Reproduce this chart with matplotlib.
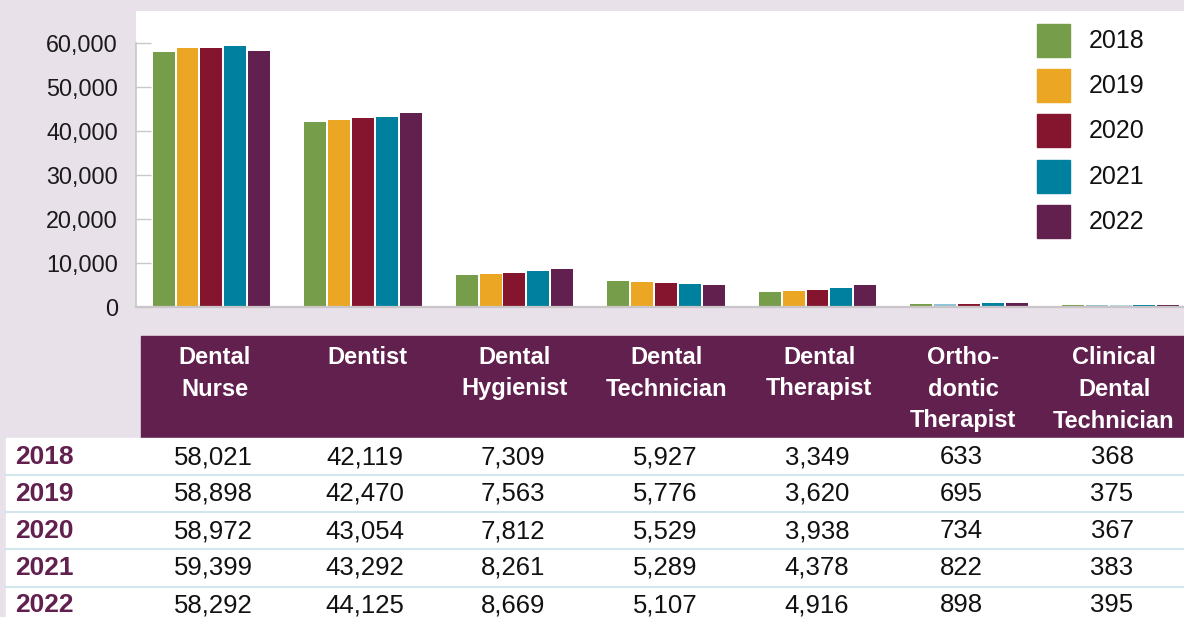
import matplotlib
matplotlib.use("Agg")
import matplotlib.pyplot as plt
from matplotlib.patches import Rectangle
from matplotlib.ticker import FuncFormatter
import numpy as np

plt.rcParams['font.family'] = ['Liberation Sans', 'DejaVu Sans']

# ---------------- data ----------------
categories = ['Dental Nurse', 'Dentist', 'Dental Hygienist', 'Dental Technician',
              'Dental Therapist', 'Orthodontic Therapist', 'Clinical Dental Technician']
header_lines = [['Dental', 'Nurse'], ['Dentist'], ['Dental', 'Hygienist'],
                ['Dental', 'Technician'], ['Dental', 'Therapist'],
                ['Ortho-', 'dontic', 'Therapist'], ['Clinical', 'Dental', 'Technician']]
years = ['2018', '2019', '2020', '2021', '2022']
v2018 = [58021, 42119, 7309, 5927, 3349, 633, 368]
v2019 = [58898, 42470, 7563, 5776, 3620, 695, 375]
v2020 = [58972, 43054, 7812, 5529, 3938, 734, 367]
v2021 = [59399, 43292, 8261, 5289, 4378, 822, 383]
v2022 = [58292, 44125, 8669, 5107, 4916, 898, 395]
series = [v2018, v2019, v2020, v2021, v2022]
colors = ['#769d4a', '#eba623', '#85152e', '#00809f', '#62204f']
# odd light-blue bars seen in the reference (category index, year index) -> colour
color_override = {(5, 1): '#8fc3d6', (6, 1): '#8fc3d6', (6, 2): '#b3d8e4'}
yticks = [0, 10000, 20000, 30000, 40000, 50000, 60000]

# ---------------- figure ----------------
W, H = 1184, 617
BG = '#e8e1ea'
PURPLE = '#62204f'
fig = plt.figure(figsize=(W / 100, H / 100), dpi=100, facecolor=BG)

def fy(ypx):
    return 1 - ypx / H

def fx(xpx):
    return xpx / W

ax = fig.add_axes([fx(136), fy(307), fx(1184) - fx(136), fy(11) - fy(307)])
ax.set_facecolor('white')

x = np.arange(len(categories))
step, width = 0.158, 0.145
for j, (yr, vals) in enumerate(zip(years, series)):
    cols = [color_override.get((i, j), colors[j]) for i in range(len(categories))]
    ax.bar(x + (j - 2) * step, vals, width=width, color=cols, label=yr, zorder=2)

ax.set_xlim(-0.498, 6.419)
ax.set_ylim(0, 67270)
ax.set_xticks([])
ax.set_yticks(yticks)
ax.yaxis.set_major_formatter(FuncFormatter(lambda v, p: f'{int(v):,}'))
ax.tick_params(axis='y', direction='in', length=11, width=1, color='#c8c8c8',
               labelsize=16.8, pad=13, labelcolor='#1a1a1a')
for s in ['top', 'right']:
    ax.spines[s].set_visible(False)
ax.spines['left'].set_bounds(0, 60000)
ax.spines['left'].set_color('#c8c8c8')
ax.spines['left'].set_linewidth(1.2)
ax.spines['bottom'].set_color('#c9c5c9')
ax.spines['bottom'].set_linewidth(1.6)

# ---------------- legend (manual) ----------------
leg_tops = [24, 69, 114, 160, 205]
for yr, c, t in zip(years, colors, leg_tops):
    fig.patches.append(Rectangle((fx(1037), fy(t + 33)), fx(33), 33 / H,
                                 transform=fig.transFigure, color=c, zorder=3))
    fig.text(fx(1089), fy(t + 17), yr, fontsize=18, va='center', ha='left', color='#111111')

# ---------------- table ----------------
col_px = [213, 365, 513, 665, 817, 961, 1112]     # table column centres (pixels)
fig.patches.append(Rectangle((fx(141), fy(438)), fx(1184) - fx(141), (438 - 336) / H,
                             transform=fig.transFigure, color=PURPLE, zorder=1))
fig.patches.append(Rectangle((fx(6), 0), fx(1184) - fx(6), fy(438),
                             transform=fig.transFigure, color='white', zorder=1))
for ysep in [475, 512, 549, 587]:
    fig.lines.append(plt.Line2D([fx(6), 1], [fy(ysep), fy(ysep)], transform=fig.transFigure,
                                color='#d3e6ee', lw=1.5, zorder=2))

for i, lines in enumerate(header_lines):
    for k, ln in enumerate(lines):
        fig.text(fx(col_px[i] + 2), fy(357 + 32 * k), ln, ha='center', va='center',
                 color='white', fontsize=17, fontweight='bold')

row_centers = [457, 494, 531, 568, 605]
for yr, vals, rc in zip(years, series, row_centers):
    fig.text(fx(15), fy(rc), yr, ha='left', va='center', color=PURPLE,
             fontsize=19, fontweight='bold')
    for i, v in enumerate(vals):
        fig.text(fx(col_px[i]), fy(rc), f'{v:,}', ha='center', va='center',
                 color='#111111', fontsize=18.5)

fig.savefig('out.png', dpi=100, facecolor=BG)
